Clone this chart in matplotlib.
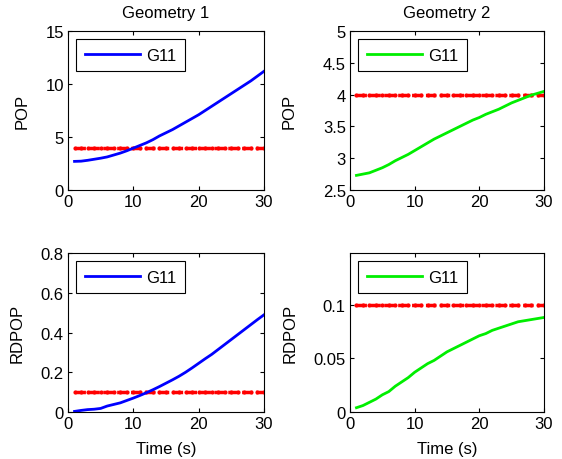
import matplotlib
matplotlib.use('Agg')
import matplotlib.pyplot as plt
import numpy as np

plt.rcParams['font.family'] = ['Liberation Sans', 'DejaVu Sans']
plt.rcParams['font.size'] = 12

t = np.arange(1, 31)

pop_g1 = [2.70, 2.72, 2.80, 2.90, 3.00, 3.12, 3.30, 3.48, 3.70, 3.95,
          4.20, 4.45, 4.75, 5.10, 5.40, 5.70, 6.05, 6.40, 6.75, 7.10,
          7.50, 7.90, 8.30, 8.70, 9.10, 9.50, 9.90, 10.30, 10.75, 11.20]
pop_g2 = [2.73, 2.75, 2.77, 2.81, 2.85, 2.90, 2.96, 3.01, 3.06, 3.12,
          3.18, 3.24, 3.30, 3.35, 3.40, 3.45, 3.50, 3.55, 3.60, 3.64,
          3.69, 3.73, 3.77, 3.82, 3.87, 3.91, 3.95, 3.99, 4.02, 4.05]
rdpop_g1 = [0.003, 0.008, 0.012, 0.014, 0.018, 0.030, 0.038, 0.046, 0.058, 0.070,
            0.083, 0.097, 0.112, 0.128, 0.145, 0.162, 0.180, 0.200, 0.222, 0.245,
            0.268, 0.290, 0.315, 0.340, 0.365, 0.390, 0.415, 0.440, 0.465, 0.489]
rdpop_g2 = [0.004, 0.006, 0.009, 0.012, 0.016, 0.019, 0.024, 0.028, 0.032, 0.037,
            0.041, 0.045, 0.048, 0.052, 0.056, 0.059, 0.062, 0.065, 0.068, 0.071,
            0.073, 0.076, 0.078, 0.080, 0.082, 0.084, 0.085, 0.086, 0.087, 0.088]

pop_limit = 4.0
rdpop_limit = 0.1

fig = plt.figure(figsize=(5.62, 4.6), dpi=100)

# axes placed by pixel measurements of the original
axes_pos = {
    'tl': [68/562, 1-191/460, 196/562, 159/460],
    'tr': [350/562, 1-191/460, 194/562, 159/460],
    'bl': [68/562, 1-413/460, 196/562, 159/460],
    'br': [350/562, 1-413/460, 194/562, 159/460],
}
ylabel_x = {'tl': -0.194, 'tr': -0.273, 'bl': -0.219, 'br': -0.268}

panels = [
    ('tl', pop_g1, pop_limit, 'blue', (0, 15), [0, 5, 10, 15], ['0', '5', '10', '15'], 'POP', 'Geometry 1', False),
    ('tr', pop_g2, pop_limit, '#00ee00', (2.5, 5), [2.5, 3, 3.5, 4, 4.5, 5], ['2.5', '3', '3.5', '4', '4.5', '5'], 'POP', 'Geometry 2', False),
    ('bl', rdpop_g1, rdpop_limit, 'blue', (0, 0.8), [0, 0.2, 0.4, 0.6, 0.8], ['0', '0.2', '0.4', '0.6', '0.8'], 'RDPOP', None, True),
    ('br', rdpop_g2, rdpop_limit, '#00ee00', (0, 0.148), [0, 0.05, 0.1], ['0', '0.05', '0.1'], 'RDPOP', None, True),
]

for key, y, lim, col, ylim, yt, ytl, ylab, title, xl in panels:
    ax = fig.add_axes(axes_pos[key])
    ax.plot(t, [lim]*len(t), color='red', linestyle='--', linewidth=2.5,
            marker='.', markersize=4, dashes=(3, 1))
    line, = ax.plot(t, y, color=col, linewidth=2)
    ax.set_xlim(0, 30)
    ax.set_ylim(*ylim)
    ax.set_xticks([0, 10, 20, 30])
    ax.set_yticks(yt)
    ax.set_yticklabels(ytl)
    ax.tick_params(direction='in', top=True, right=True, length=3, labelsize=12, pad=3)
    ax.set_ylabel(ylab, fontsize=12)
    ax.yaxis.set_label_coords(ylabel_x[key], 0.5)
    if title:
        ax.set_title(title, fontsize=12, pad=10)
    if xl:
        ax.set_xlabel('Time (s)', fontsize=12, labelpad=7)
    leg = ax.legend([line], ['G11'], loc='upper left', fancybox=False,
                    framealpha=1, edgecolor='black', handlelength=3.3,
                    handletextpad=0.4, borderaxespad=0.5, borderpad=0.5)
    leg.get_frame().set_linewidth(0.8)

fig.savefig('out.png', dpi=100)
plt.close(fig)
